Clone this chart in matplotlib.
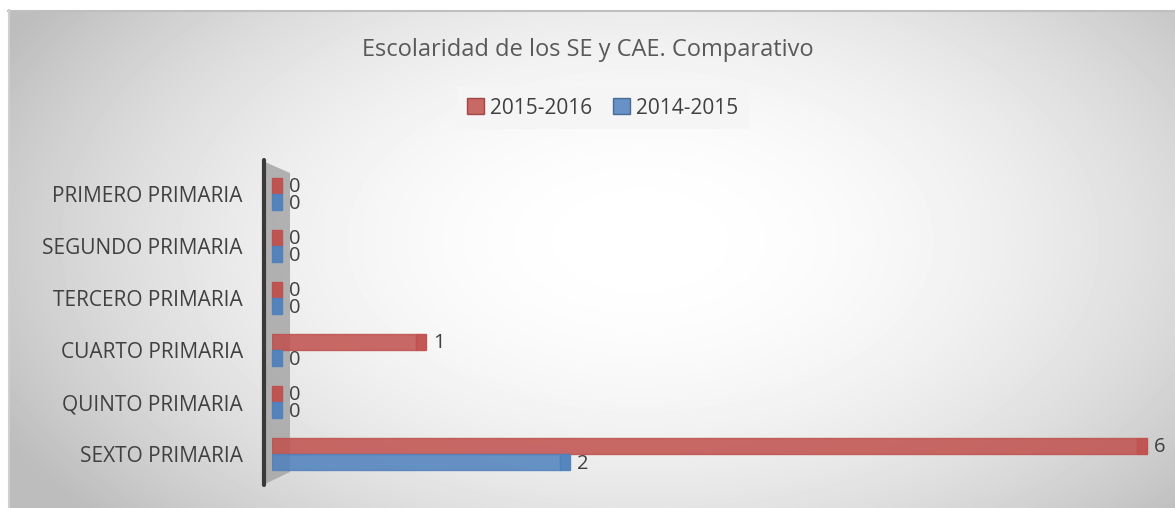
import numpy as np
import matplotlib.pyplot as plt
from matplotlib.patches import Rectangle, Polygon

categorias = ['PRIMERO PRIMARIA', 'SEGUNDO PRIMARIA', 'TERCERO PRIMARIA',
              'CUARTO PRIMARIA', 'QUINTO PRIMARIA', 'SEXTO PRIMARIA']
serie_2015_2016 = [0, 0, 0, 1, 0, 6]
serie_2014_2015 = [0, 0, 0, 0, 0, 2]
etiquetas = ['2015-2016', '2014-2015']

rojo = '#c0504d'
azul = '#4f81bd'
texto = '#404040'
plt.rcParams['font.family'] = ['Open Sans', 'DejaVu Sans']

fig = plt.figure(figsize=(11.75, 5.08), dpi=100)

# fondo con degradado radial
bg = fig.add_axes([0, 0, 1, 1], zorder=-10)
yy, xx = np.mgrid[0:508, 0:1175]
r = np.sqrt(((xx - 640) / 720.0) ** 2 + ((yy - 240) / 420.0) ** 2)
grad = 1.0 - 0.26 * np.clip(r, 0, 1.0) ** 2.0
grad[:, :8] = 1.0
grad[:10, :] = 1.0
bg.imshow(grad, cmap='gray', vmin=0, vmax=1, extent=[0, 1175, 508, 0],
          aspect='auto', interpolation='bilinear')
bg.plot([8, 1175], [10.5, 10.5], color='#bfbfbf', lw=1.5)
bg.plot([8.5, 8.5], [10, 508], color='#cfcfcf', lw=1.5)
bg.set_xlim(0, 1175)
bg.set_ylim(508, 0)
bg.axis('off')

# pared 3D
bg.add_patch(Polygon([[265, 162], [290, 173], [290, 472], [265, 484]],
                     closed=True, fc='#a6a6a6', ec='none', alpha=0.85))
bg.plot([264, 264], [160, 485], color='#3a3a3a', lw=3, solid_capstyle='round')

ax = fig.add_axes([272 / 1175, 1 - 480 / 508, (1137 - 272) / 1175, (480 - 168) / 508])
ax.patch.set_alpha(0)
n = len(categorias)
pos = np.arange(n)[::-1]
h = 0.31
ax.set_xlim(0, 6)
ax.set_ylim(-0.5, n - 0.5)

px = 6.0 / 865  # unidades de datos por pixel
for vals, col, off in [(serie_2015_2016, rojo, h / 2), (serie_2014_2015, azul, -h / 2)]:
    ax.barh(pos + off, vals, height=h, color=col, alpha=0.85, ec=col, lw=1)
    for p, v in zip(pos, vals):
        # cara frontal (profundidad)
        ax.add_patch(Rectangle((v, p + off - h / 2), 10 * px, h, fc=col, ec=col,
                               lw=1, alpha=0.95, clip_on=False))
        ax.text(v + 17 * px, p + off - 0.03, str(v), color=texto, fontsize=14.5,
                va='center', ha='left', clip_on=False)

ax.set_yticks(pos)
ax.set_yticklabels(categorias, fontsize=15, color=texto)
ax.tick_params(axis='y', length=0, pad=21)
ax.set_xticks([])
for s in ax.spines.values():
    s.set_visible(False)

fig.text(0.5, 1 - 50 / 508, 'Escolaridad de los SE y CAE. Comparativo',
         ha='center', va='center', fontsize=17, color='#595959')

handles = [Rectangle((0, 0), 1, 1, fc=rojo, ec='#943634', alpha=0.85),
           Rectangle((0, 0), 1, 1, fc=azul, ec='#385d8a', alpha=0.85)]
leg = fig.legend(handles, etiquetas, loc='center', bbox_to_anchor=(603 / 1175, 1 - 108 / 508),
                 ncol=2, frameon=True, fontsize=15, handlelength=0.8, handleheight=0.8,
                 handletextpad=0.3, columnspacing=1.0, borderpad=0.5)
leg.get_frame().set_facecolor('#f5f5f5')
leg.get_frame().set_edgecolor('none')
leg.get_frame().set_alpha(1)
leg.get_frame().set_boxstyle('square', pad=0)
for t in leg.get_texts():
    t.set_color(texto)

fig.savefig('out.png', dpi=100)
